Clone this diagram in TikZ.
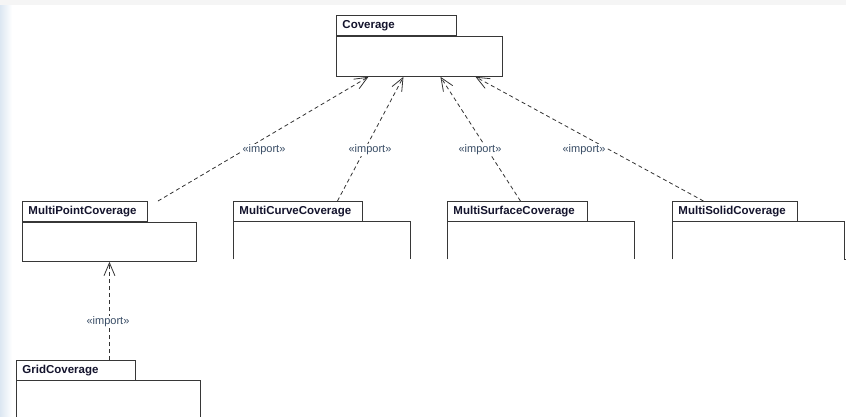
\documentclass[tikz,border=0pt]{standalone}
\usepackage{fontspec}
\setmainfont{Liberation Sans}
\usetikzlibrary{arrows.meta,positioning}
\definecolor{pkgline}{RGB}{55,55,55}
\definecolor{pkgtext}{RGB}{20,20,45}
\definecolor{impcol}{RGB}{55,75,100}
\definecolor{edgeblue}{RGB}{220,231,242}
\tikzset{
  pkgtab/.style={draw=pkgline, line width=0.9pt, fill=white, anchor=north west, minimum height=20pt, inner xsep=6pt, inner ysep=0pt, align=left, text=pkgtext, font=\bfseries\fontsize{11.5}{12}\selectfont},
  pkgbody/.style={anchor=north west, inner sep=0pt},
  dep/.style={draw=black!80, line width=0.8pt, dash pattern=on 4pt off 3pt, -{Straight Barb[length=13pt,width=11pt]}},
  imp/.style={fill=white, inner sep=1pt, text=impcol, font=\fontsize{11}{12}\selectfont}
}
\begin{document}
\begin{tikzpicture}[x=1pt, y=-1pt]
\useasboundingbox (0,0) rectangle (846,416);
\shade[left color=edgeblue, right color=white] (0,0) rectangle (12,416);
\fill[black!4] (0,0) rectangle (846,5);

% packages
\node[pkgtab, text width=108pt] (covT) at (336,15) {Coverage};
\node[pkgbody, draw=pkgline, line width=0.9pt, minimum width=166pt, minimum height=40pt] (cov) at (covT.south west) {};

\node[pkgtab, text width=113pt] (mpT) at (22,201) {MultiPointCoverage};
\node[pkgbody, draw=pkgline, line width=0.9pt, minimum width=174pt, minimum height=39pt] (mp) at (mpT.south west) {};

\node[pkgtab, text width=117pt] (mcT) at (233,201) {MultiCurveCoverage};
\node[pkgbody, minimum width=177pt, minimum height=37pt] (mc) at (mcT.south west) {};

\node[pkgtab, text width=128pt] (msT) at (447,201) {MultiSurfaceCoverage};
\node[pkgbody, minimum width=187pt, minimum height=37pt] (ms) at (msT.south west) {};

\node[pkgtab, text width=113pt] (mdT) at (672,201) {MultiSolidCoverage};
\node[pkgbody, minimum width=172pt, minimum height=37pt] (md) at (mdT.south west) {};

\node[pkgtab, text width=107pt] (gcT) at (16,360) {GridCoverage};
\node[pkgbody, minimum width=184pt, minimum height=36pt] (gc) at (gcT.south west) {};

\begin{scope}[draw=pkgline, line width=0.9pt]
\draw (mc.south west) -- (mc.north west) -- (mc.north east) -- (mc.south east);
\draw (ms.south west) -- (ms.north west) -- (ms.north east) -- (ms.south east);
\draw (md.south west) -- (md.north west) -- (md.north east) -- (md.south east) -- ++(2,0);
\draw (gc.south west) -- (gc.north west) -- (gc.north east) -- (gc.south east);
\end{scope}

% dependencies
\coordinate (mpEnd) at (158,201);
\draw[dep] (mpEnd) -- ([xshift=-51pt]cov.south);
\draw[dep] ([xshift=39.5pt]mcT.north) -- ([xshift=-16pt]cov.south);
\draw[dep] ([xshift=3pt]msT.north) -- ([xshift=21pt]cov.south);
\draw[dep] ([xshift=-31.5pt]mdT.north) -- ([xshift=56pt]cov.south);
\draw[dep] (gcT.north -| mp.south) -- (mp.south);

\node[imp] (impA) at (264,150) {«import»};
\node[imp] (impB) at (370,150) {«import»};
\node[imp] (impC) at (480,150) {«import»};
\node[imp] (impD) at (584,150) {«import»};
\node[imp] (impE) at (108,322) {«import»};

\end{tikzpicture}
\end{document}
